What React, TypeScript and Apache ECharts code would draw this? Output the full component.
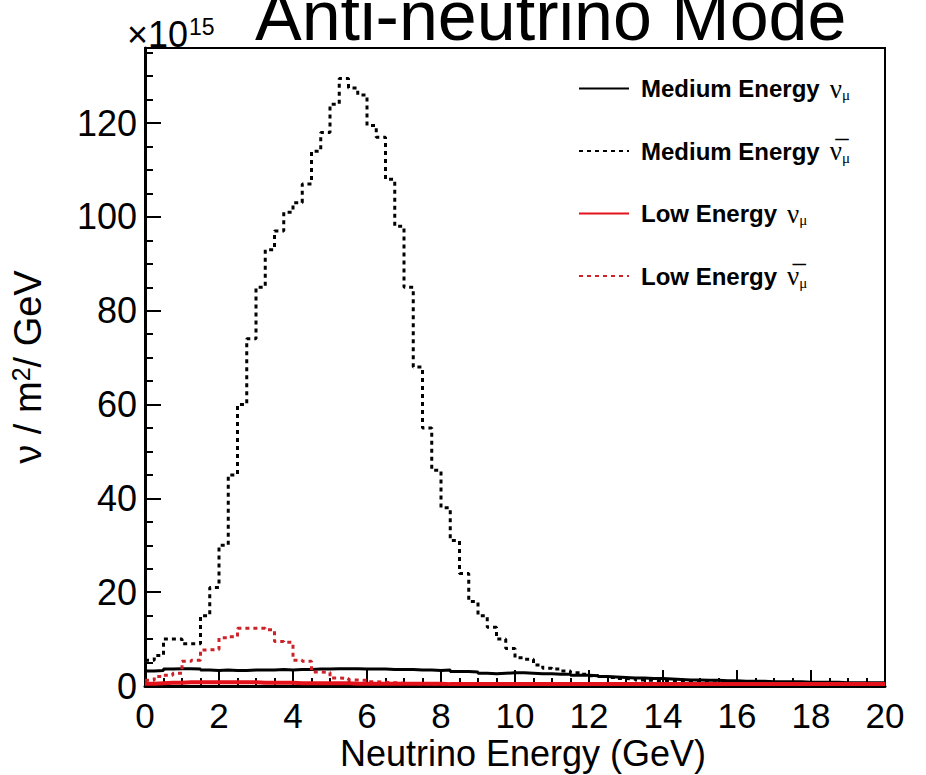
import React, { useEffect, useRef } from 'react';
import * as echarts from 'echarts';

// ---------- data (units of 10^15 ν / m² / GeV), 0.25 GeV bins from 0 to 20 GeV ----------
const X_MIN = 0;
const X_MAX = 20;
const BIN_WIDTH = 0.25;
const Y_MAX = 136;

const xTickLabels = ['0', '2', '4', '6', '8', '10', '12', '14', '16', '18', '20'];
const yTickLabels = ['0', '20', '40', '60', '80', '100', '120'];

const legendNames = ['ME_nu', 'ME_anti', 'LE_nu', 'LE_anti'];
const legendTexts: Record<string, string> = {
  ME_nu: '{b|Medium Energy}{nu|ν}{sub|μ}',
  ME_anti: '{b|Medium Energy}{nu|ν\u0305}{sub|μ}',
  LE_nu: '{b|Low Energy}{nu|ν}{sub|μ}',
  LE_anti: '{b|Low Energy}{nu|ν\u0305}{sub|μ}',
};

// Medium Energy ν_μ (black solid)
const mediumNuMu = [
  3.2, 3.3, 3.6, 3.7, 3.7, 3.6, 3.4, 3.3, 3.4, 3.3,
  3.3, 3.4, 3.4, 3.4, 3.5, 3.4, 3.5, 3.5, 3.6, 3.6,
  3.7, 3.7, 3.7, 3.6, 3.6, 3.6, 3.5, 3.5, 3.5, 3.4,
  3.4, 3.3, 3.4, 3.1, 3.1, 3.0, 2.7, 2.6, 2.7, 2.8,
  2.8, 2.7, 2.6, 2.6, 2.5, 2.5, 2.3, 2.3, 2.2, 2.0,
  1.9, 1.8, 1.7, 1.7, 1.6, 1.6, 1.5, 1.4, 1.3, 1.3,
  1.2, 1.2, 1.1, 1.1, 1.0, 1.0, 1.0, 0.9, 0.9, 0.9,
  0.9, 0.8, 0.8, 0.8, 0.8, 0.7, 0.7, 0.7, 0.7, 0.7,
];

// Medium Energy anti-ν_μ (black dotted)
const mediumAntiNuMu = [
  5.5, 6.5, 10, 10, 9, 9, 15, 21, 30, 45,
  60, 74, 85, 93, 97, 101, 103, 107, 114, 118,
  124, 129.5, 127.5, 126, 119.5, 117, 108, 98, 85, 68,
  55, 46, 38, 31, 24, 18, 15, 12.5, 10, 8,
  6, 5.7, 4.5, 3.8, 3.6, 3.2, 2.8, 2.5, 2.2, 2.0,
  1.8, 1.6, 1.5, 1.3, 1.2, 1.1, 1.0, 0.9, 0.9, 0.8,
  0.7, 0.7, 0.6, 0.6, 0.55, 0.5, 0.5, 0.5, 0.45, 0.45,
  0.4, 0.4, 0.4, 0.35, 0.35, 0.35, 0.3, 0.3, 0.3, 0.3,
];

// Low Energy ν_μ (red solid)
const lowNuMu = [
  0.5, 0.6, 0.7, 0.7, 0.8, 0.8, 0.8, 0.8, 0.8, 0.8,
  0.8, 0.8, 0.7, 0.7, 0.7, 0.7, 0.6, 0.6, 0.6, 0.6,
  0.6, 0.6, 0.5, 0.5, 0.5, 0.5, 0.5, 0.5, 0.5, 0.5,
  0.5, 0.5, 0.4, 0.4, 0.4, 0.4, 0.4, 0.4, 0.4, 0.4,
  0.4, 0.4, 0.4, 0.4, 0.4, 0.4, 0.4, 0.4, 0.4, 0.4,
  0.4, 0.4, 0.4, 0.4, 0.4, 0.4, 0.4, 0.4, 0.4, 0.4,
  0.4, 0.4, 0.4, 0.4, 0.4, 0.4, 0.4, 0.4, 0.4, 0.4,
  0.4, 0.4, 0.4, 0.4, 0.4, 0.4, 0.4, 0.4, 0.4, 0.4,
];

// Low Energy anti-ν_μ (red dotted)
const lowAntiNuMu = [
  1.2, 2.0, 2.3, 2.7, 5.3, 5.5, 7.7, 7.8, 10.3, 10.5,
  12.3, 12.3, 12.3, 12.0, 9.5, 9.3, 5.5, 5.3, 3.0, 2.9,
  1.7, 1.6, 1.3, 1.2, 0.9, 0.8, 0.7, 0.6, 0.5, 0.45,
  0.4, 0.4, 0.35, 0.35, 0.3, 0.3, 0.3, 0.3, 0.3, 0.3,
  0.3, 0.3, 0.3, 0.3, 0.3, 0.3, 0.3, 0.3, 0.3, 0.3,
  0.3, 0.3, 0.3, 0.3, 0.3, 0.3, 0.3, 0.3, 0.3, 0.3,
  0.3, 0.3, 0.3, 0.3, 0.3, 0.3, 0.3, 0.3, 0.3, 0.3,
  0.3, 0.3, 0.3, 0.3, 0.3, 0.3, 0.3, 0.3, 0.3, 0.3,
];

const SANS = '"Liberation Sans", Arial, Helvetica, sans-serif';
const SERIF = '"Liberation Serif", "DejaVu Serif", "Times New Roman", serif';
const RED_SOLID = '#e3121b';
const RED_DOT = '#cc2229';

function toSteps(values: number[]): number[][] {
  const pts = values.map((v, i) => [X_MIN + i * BIN_WIDTH, v]);
  pts.push([X_MIN + values.length * BIN_WIDTH, values[values.length - 1]]);
  return pts;
}

export default function App() {
  const ref = useRef<HTMLDivElement>(null);

  useEffect(() => {
    if (!ref.current) return;
    const chart = echarts.init(ref.current, null, { renderer: 'svg' });

    const tickStyle = { color: '#000', width: 2 };

    const option: any = {
      animation: false,
      backgroundColor: '#fff',
      grid: {
        left: 145,
        right: 41,
        top: 48,
        bottom: 89,
        show: true,
        borderColor: '#000',
        borderWidth: 2,
        backgroundColor: 'transparent',
        containLabel: false,
        outerBoundsMode: 'none',
      },
      graphic: [
        {
          type: 'text',
          left: 255,
          top: -19,
          style: {
            text: 'Anti-neutrino Mode',
            font: `70px ${SANS}`,
            fill: '#000',
          },
        },
        {
          type: 'text',
          left: 127,
          top: 15,
          style: {
            text: '×10{sup|15}',
            fontSize: 36,
            fontFamily: SANS,
            fill: '#000',
            rich: {
              sup: { fontSize: 23, fontFamily: SANS, verticalAlign: 'top', padding: [0, 0, 16, 1] },
            },
          },
        },
      ],
      legend: {
        data: legendNames,
        orient: 'vertical',
        left: 578,
        top: 75,
        padding: 0,
        itemWidth: 50,
        itemHeight: 14,
        itemGap: 35,
        selectedMode: false,
        itemStyle: { opacity: 0, borderWidth: 0 },
        formatter: (name: string) => legendTexts[name],
        textStyle: {
          color: '#000',
          rich: {
            b: { fontFamily: SANS, fontWeight: 'bold', fontSize: 24, color: '#000', lineHeight: 28, padding: [0, 10, 0, 7] },
            nu: { fontFamily: SERIF, fontSize: 27, color: '#000', lineHeight: 28 },
            sub: { fontFamily: SERIF, fontSize: 15, color: '#000', lineHeight: 28, verticalAlign: 'bottom', padding: [12, 0, 0, 0] },
          },
        },
      },
      xAxis: [
        {
          type: 'value',
          min: X_MIN,
          max: X_MAX,
          interval: 2,
          position: 'bottom',
          axisLine: { show: true, onZero: false, lineStyle: { color: '#000', width: 3 } },
          axisTick: { show: true, inside: true, length: 16, lineStyle: tickStyle },
          axisLabel: {
            margin: 13,
            color: '#000',
            fontFamily: SANS,
            fontSize: 35,
            lineHeight: 32,
            formatter: (v: number) => xTickLabels[Math.round(v / 2)] ?? '',
          },
          splitLine: { show: false },
          name: 'Neutrino Energy (GeV)',
          nameLocation: 'middle',
          nameMoveOverlap: false,
          nameGap: 50,
          nameTextStyle: { color: '#000', fontFamily: SANS, fontSize: 36, lineHeight: 34, padding: [0, 0, 0, 16] },
        },
        {
          type: 'value',
          min: X_MIN,
          max: X_MAX,
          interval: 0.5,
          position: 'bottom',
          axisLine: { show: false },
          axisTick: { show: true, inside: true, length: 8, lineStyle: tickStyle },
          axisLabel: { show: false },
          splitLine: { show: false },
        },
      ],
      yAxis: [
        {
          type: 'value',
          min: 0,
          max: Y_MAX,
          interval: 20,
          position: 'left',
          axisLine: { show: true, onZero: false, lineStyle: { color: '#000', width: 3 } },
          axisTick: { show: true, inside: true, length: 16, lineStyle: tickStyle },
          axisLabel: {
            margin: 8,
            color: '#000',
            fontFamily: SANS,
            fontSize: 36,
            showMaxLabel: false,
            formatter: (v: number) => (v % 20 === 0 ? yTickLabels[v / 20] ?? '' : ''),
          },
          splitLine: { show: false },
          name: 'ν / m{sup|2}/ GeV',
          nameLocation: 'middle',
          nameRotate: 90,
          nameGap: 98,
          nameTextStyle: {
            color: '#000',
            fontFamily: SANS,
            fontSize: 38,
            rich: {
              sup: { fontFamily: SANS, fontSize: 25, verticalAlign: 'top', padding: [0, 0, 14, 0] },
            },
          },
        },
        {
          type: 'value',
          min: 0,
          max: Y_MAX,
          interval: 5,
          position: 'left',
          axisLine: { show: false },
          axisTick: { show: true, inside: true, length: 8, lineStyle: tickStyle },
          axisLabel: { show: false },
          splitLine: { show: false },
        },
      ],
      series: [
        {
          name: 'ME_nu',
          type: 'line',
          step: 'end',
          symbol: 'none',
          data: toSteps(mediumNuMu),
          lineStyle: { color: '#000', width: 3, type: 'solid' },
          itemStyle: { color: '#000' },
          z: 3,
        },
        {
          name: 'ME_anti',
          type: 'line',
          step: 'end',
          symbol: 'none',
          data: toSteps(mediumAntiNuMu),
          lineStyle: { color: '#000', width: 3, type: [4, 4] },
          itemStyle: { color: '#000' },
          z: 3,
        },
        {
          name: 'LE_anti',
          type: 'line',
          step: 'end',
          symbol: 'none',
          data: toSteps(lowAntiNuMu),
          lineStyle: { color: RED_DOT, width: 3, type: [4, 4] },
          itemStyle: { color: RED_DOT },
          z: 4,
        },
        {
          name: 'LE_nu',
          type: 'line',
          step: 'end',
          symbol: 'none',
          data: toSteps(lowNuMu),
          lineStyle: { color: RED_SOLID, width: 4, type: 'solid' },
          itemStyle: { color: RED_SOLID },
          z: 5,
        },
      ],
    };

    chart.setOption(option);
    return () => chart.dispose();
  }, []);

  return <div ref={ref} style={{ width: 926, height: 775, position: 'absolute', left: 0, top: 0 }} />;
}
